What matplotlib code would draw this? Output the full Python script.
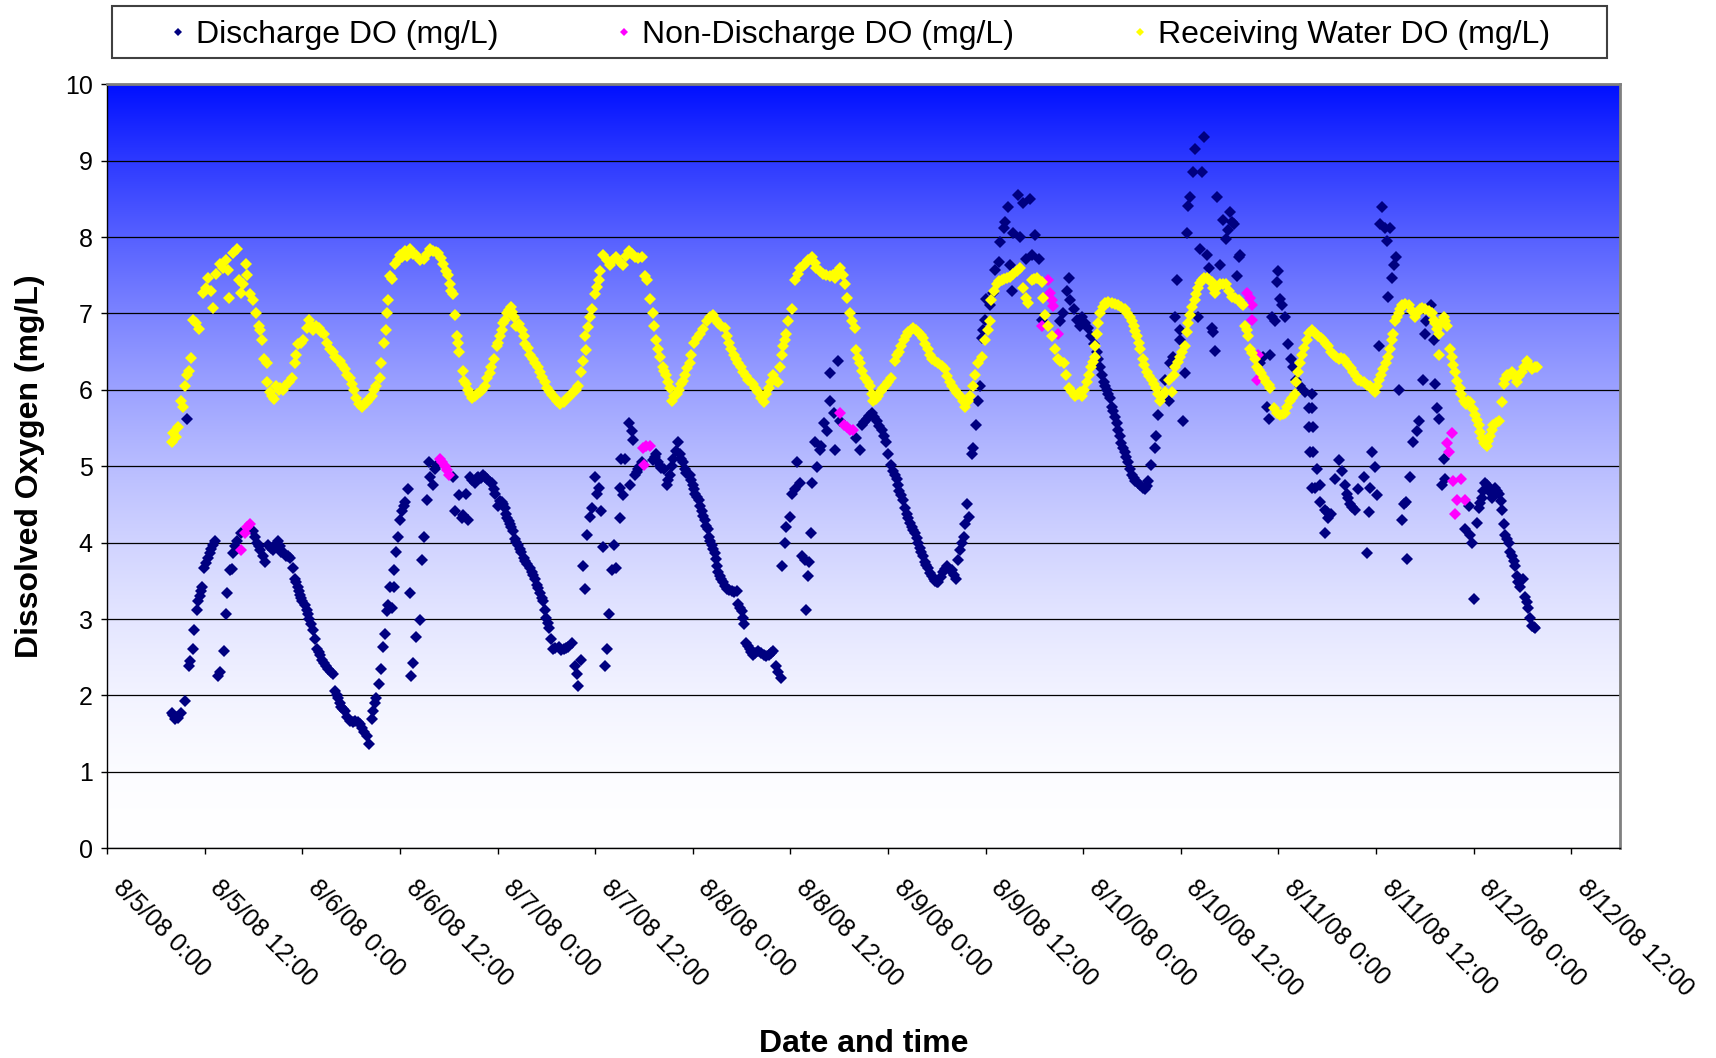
import numpy as np
import pandas as pd
import matplotlib
matplotlib.use("Agg")
import matplotlib.pyplot as plt
import matplotlib.dates as mdates
from matplotlib.lines import Line2D
from matplotlib.patches import Rectangle
from matplotlib.transforms import ScaledTranslation

plt.rcParams['font.family'] = ['Liberation Sans', 'DejaVu Sans']

# hours after 8/5/08 0:00 and DO readings (mg/L)
receiving_hours = [
    7.9, 8.1, 8.4, 8.7, 9.1, 9.3, 9.55, 9.76, 10.0, 10.25, 10.6, 10.9, 11.3, 11.8, 12.1, 12.4, 12.8, 13.0, 13.4, 13.9,
    14.2, 14.6, 14.9, 15.0, 15.4, 15.9, 16.2, 16.4, 16.7, 17.0, 17.2, 17.55, 17.96, 18.25, 18.6, 18.8, 19.0, 19.3, 19.6, 19.7,
    20.0, 20.3, 20.5, 20.8, 21.1, 21.3, 21.6, 21.9, 22.3, 22.7, 23.1, 23.2, 23.5, 23.8, 24.1, 24.5, 24.8, 25.0, 25.3, 25.7,
    26.0, 26.3, 26.6, 27.0, 27.4, 27.7, 28.0, 28.3, 28.6, 28.9, 29.2, 29.5, 29.8, 30.1, 30.3, 30.6, 30.9, 31.3, 31.6, 31.9,
    32.2, 32.5, 32.8, 33.1, 33.5, 33.7, 34.0, 34.3, 34.4, 34.55, 34.8,
    35.0, 35.4, 35.7, 36.0, 36.3, 36.6, 36.9, 37.2, 37.6, 38.0, 38.4, 38.9, 39.3, 39.7, 40.0, 40.4, 40.7, 41.0, 41.3, 41.7,
    41.9, 42.1, 42.3, 42.5, 42.75, 43.0, 43.15, 43.3, 43.7, 43.9, 44.1, 44.3, 44.6, 44.9, 45.2, 45.5, 45.8, 46.1, 46.4, 46.7,
    47.05, 47.2, 47.5, 47.9, 48.1, 48.3, 48.5, 48.7, 48.9, 49.1, 49.35, 49.6, 49.8, 50.0, 50.3, 50.6, 51.0, 51.2, 51.4, 51.7,
    52.0, 52.3, 52.6, 52.9, 53.2, 53.5, 53.8, 54.1, 54.4, 54.7, 55.0, 55.3, 55.7, 56.1, 56.5, 56.9, 57.3, 57.6, 57.9, 58.3,
    58.45, 58.7, 58.9, 59.1, 59.3, 59.6, 60.0, 60.2, 60.4, 60.6, 61.0, 61.4, 61.8, 62.2, 62.6,
    63.0, 63.45, 63.8, 64.1, 64.5, 64.9, 65.3, 65.7, 66.1, 66.4, 66.7, 67.1, 67.2, 67.5, 67.75, 68.0, 68.3, 68.5, 68.7, 69.0,
    69.2, 69.4, 69.7, 70.0, 70.3, 70.6, 70.8, 71.0, 71.3, 71.6, 71.8, 72.1, 72.5, 72.9, 73.3, 73.7, 74.1, 74.5, 74.8, 75.1,
    75.5, 75.95, 76.2, 76.4, 76.7, 77.0, 77.3, 77.6, 77.9, 78.2, 78.5, 78.8, 79.1, 79.4, 79.7, 80.05, 80.4, 80.7, 81.0, 81.3,
    81.6, 81.9, 82.2, 82.5, 82.7, 82.9, 83.1, 83.3, 83.5, 83.7, 84.2, 84.6, 84.9, 85.2, 85.5, 85.8, 86.2, 86.7, 87.0, 87.2,
    87.6, 88.0, 88.4, 88.9, 89.2, 89.5, 89.8, 90.1, 90.4, 90.7, 91.0, 91.3, 91.6, 91.9,
    92.1, 92.3, 92.5, 92.8, 93.2, 93.5, 93.8, 94.0, 94.2, 94.5, 94.8, 95.1, 95.4, 95.7, 96.0, 96.4, 96.85, 97.1, 97.3, 97.6,
    97.9, 98.2, 98.5, 98.8, 99.1, 99.4, 99.7, 100.0, 100.3, 100.6, 100.95, 101.2, 101.4, 101.8, 102.2, 102.6, 103.0, 103.3,
    103.6, 103.9, 104.2, 104.5, 104.85, 105.2, 105.5, 105.8, 106.1, 106.4, 106.7, 107.1, 107.5, 107.9, 108.3, 108.5, 108.7,
    109.0, 109.35, 109.65, 109.97, 110.3, 110.6, 111.0, 111.4, 111.8, 112.2, 112.6, 112.9, 113.25, 113.65, 114.0, 114.3,
    114.9, 115.1, 115.3, 115.7, 116.1, 116.5, 116.9, 117.2, 117.6, 117.9, 118.2, 118.6, 119.0, 119.3, 119.6,
    119.8, 120.1, 120.4, 120.7, 121.0, 121.2, 121.4, 121.5, 121.65, 121.85, 122.06, 122.4, 122.7, 123.1, 123.5, 123.9, 124.3,
    124.7, 125.1, 125.4, 125.75, 126.0, 126.2, 126.4, 126.6, 126.8, 127.0, 127.3, 127.5, 127.8, 128.1, 128.4, 128.7, 129.0,
    129.2, 129.4, 129.7, 130.05, 130.5, 130.9, 131.1, 131.3, 131.6, 131.9, 132.2, 132.5, 132.7, 132.9, 133.1, 133.4, 133.7,
    133.9, 134.15, 134.4, 134.6, 134.9, 135.2, 135.5, 135.8, 136.0, 136.2, 136.5, 136.8, 137.2, 137.6, 137.9, 138.25, 138.6,
    139.1, 139.4, 139.7, 139.9, 140.1, 140.3, 140.5, 140.8, 141.1, 141.3, 141.6, 141.9, 142.2, 142.5, 142.8, 143.0, 143.4,
    143.8, 144.2, 144.5, 144.8, 145.1, 145.4, 145.7, 146.0, 146.2, 146.4, 146.6, 146.85, 147.2, 147.5, 147.8,
    148.1, 148.5, 148.9, 149.2, 149.5, 149.8, 150.15, 150.5, 150.8, 151.1, 151.4, 151.7, 152.0, 152.3, 152.6, 152.9, 153.2,
    153.5, 153.8, 154.1, 154.5, 154.9, 155.3, 155.6, 155.9, 156.1, 156.3, 156.6, 156.9, 157.2, 157.5, 157.7, 157.9, 158.1,
    158.35, 158.6, 158.8, 159.0, 159.2, 159.6, 160.0, 160.4, 160.8, 161.1, 161.4, 161.7, 162.0, 162.5, 162.9, 163.1, 163.3,
    163.5, 163.7, 164.0, 164.3, 164.5, 164.7, 163.7, 165.1, 165.3, 165.5, 165.7, 166.0, 166.3, 166.5, 166.75, 167.0, 167.3,
    167.6, 167.9, 168.2, 168.4, 168.6, 168.8, 169.0, 169.3, 169.6, 169.8, 170.0, 170.2, 170.4, 170.7, 171.1, 171.5, 171.7,
    171.9, 172.1, 172.4, 172.7, 173.0, 173.3, 173.6, 173.9, 174.2, 174.5, 174.8, 175.2, 175.5, 175.8,
]
receiving_do = [
    5.32, 5.43, 5.38, 5.51, 5.86, 5.78, 6.05, 6.19, 6.25, 6.42, 6.92, 6.88, 6.80, 7.27, 7.33, 7.46, 7.30, 7.07, 7.52, 7.65,
    7.60, 7.70, 7.57, 7.20, 7.79, 7.84, 7.44, 7.27, 7.38, 7.65, 7.50, 7.25, 7.17, 7.00, 6.84, 6.78, 6.65, 6.41, 6.35, 6.10,
    5.97, 5.92, 5.88, 6.05, 6.00, 6.03, 6.00, 6.05, 6.10, 6.16, 6.35, 6.46, 6.60, 6.62, 6.65, 6.81, 6.92, 6.85, 6.79, 6.83,
    6.81, 6.76, 6.73, 6.62, 6.54, 6.50, 6.43, 6.40, 6.38, 6.32, 6.27, 6.20, 6.16, 6.08, 6.00, 5.90, 5.81, 5.78, 5.82, 5.84,
    5.88, 5.92, 6.00, 6.05, 6.16, 6.35, 6.62, 6.79, 7.00, 7.17, 7.49,
    7.45, 7.65, 7.70, 7.76, 7.74, 7.82, 7.75, 7.84, 7.78, 7.76, 7.70, 7.71, 7.78, 7.84, 7.82, 7.80, 7.79, 7.72, 7.65, 7.55,
    7.50, 7.38, 7.30, 7.25, 6.98, 6.70, 6.62, 6.49, 6.25, 6.12, 6.08, 6.00, 5.94, 5.90, 5.92, 5.95, 5.97, 6.00, 6.05, 6.15,
    6.22, 6.30, 6.41, 6.57, 6.62, 6.70, 6.78, 6.87, 6.92, 7.00, 7.05, 7.08, 7.02, 6.95, 6.84, 6.86, 6.79, 6.70, 6.60, 6.55,
    6.46, 6.40, 6.35, 6.30, 6.24, 6.17, 6.10, 6.03, 5.97, 5.93, 5.89, 5.85, 5.81, 5.84, 5.89, 5.92, 5.97, 6.00, 6.05, 6.24,
    6.38, 6.70, 6.52, 6.82, 6.95, 7.06, 7.25, 7.35, 7.44, 7.55, 7.76, 7.70, 7.63, 7.70, 7.74,
    7.68, 7.63, 7.75, 7.82, 7.78, 7.74, 7.72, 7.74, 7.49, 7.44, 7.19, 7.00, 6.84, 6.65, 6.54, 6.43, 6.30, 6.25, 6.19, 6.10,
    6.03, 5.86, 5.92, 5.95, 6.00, 6.08, 6.12, 6.19, 6.28, 6.35, 6.45, 6.62, 6.68, 6.73, 6.80, 6.90, 6.95, 6.98, 6.92, 6.87,
    6.83, 6.81, 6.70, 6.62, 6.53, 6.46, 6.40, 6.35, 6.30, 6.24, 6.18, 6.13, 6.10, 6.08, 6.02, 5.97, 5.90, 5.84, 5.95, 6.03,
    6.10, 6.19, 6.12, 6.10, 6.30, 6.45, 6.57, 6.65, 6.73, 6.90, 7.06, 7.44, 7.52, 7.60, 7.62, 7.65, 7.70, 7.74, 7.66, 7.60,
    7.55, 7.52, 7.50, 7.49, 7.50, 7.46, 7.55, 7.60, 7.50, 7.38, 7.20, 7.00, 6.90, 6.81,
    6.52, 6.42, 6.35, 6.25, 6.16, 6.10, 6.05, 5.95, 5.86, 5.88, 5.92, 5.98, 6.03, 6.07, 6.10, 6.16, 6.38, 6.45, 6.49, 6.58,
    6.65, 6.70, 6.76, 6.79, 6.81, 6.78, 6.76, 6.72, 6.68, 6.60, 6.54, 6.46, 6.41, 6.38, 6.35, 6.31, 6.27, 6.18,
    6.10, 6.05, 6.00, 5.96, 5.92, 5.85, 5.78, 5.85, 5.92, 6.05, 6.19, 6.35, 6.43, 6.65, 6.79, 6.90, 7.17,
    7.30, 7.38, 7.42, 7.44, 7.45, 7.46, 7.48, 7.52, 7.56, 7.60, 7.33, 7.20, 7.14, 7.44, 7.45, 7.46,
    7.41, 7.20, 6.98, 6.84, 6.70, 6.54, 6.41, 6.38, 6.35, 6.20, 6.03, 5.97, 5.92, 5.95, 5.97,
    5.92, 6.00, 6.10, 6.20, 6.30, 6.37, 6.43, 6.57, 6.73, 6.88, 7.00, 7.08, 7.14, 7.15, 7.14, 7.12, 7.11,
    7.08, 7.06, 7.00, 6.95, 6.90, 6.84, 6.77, 6.70, 6.62, 6.54, 6.41, 6.33, 6.24, 6.18, 6.13, 6.08, 6.03,
    5.95, 5.86, 5.92, 5.97, 6.13, 5.97, 6.20, 6.30, 6.37, 6.43, 6.50, 6.57, 6.76, 6.88, 6.98, 7.08, 7.17,
    7.25, 7.33, 7.40, 7.44, 7.46, 7.46, 7.44, 7.41, 7.33, 7.27, 7.35, 7.38, 7.38, 7.38, 7.30, 7.22, 7.20,
    7.17, 7.14, 7.11, 6.84, 6.78, 6.70, 6.54, 6.48, 6.41, 6.30, 6.26, 6.22, 6.16, 6.10, 6.06, 6.03, 5.76,
    5.70, 5.67, 5.68, 5.70, 5.78, 5.86, 5.90, 5.94, 6.10, 6.24, 6.35, 6.46, 6.55, 6.65, 6.74,
    6.79, 6.74, 6.70, 6.68, 6.65, 6.60, 6.57, 6.50, 6.46, 6.43, 6.41, 6.42, 6.41, 6.37, 6.33, 6.28, 6.24,
    6.18, 6.13, 6.12, 6.10, 6.07, 6.05, 6.00, 5.97, 6.05, 6.13, 6.20, 6.27, 6.35, 6.43, 6.54, 6.65, 6.73,
    6.90, 6.95, 7.00, 7.06, 7.11, 7.12, 7.11, 7.03, 6.95, 7.02, 7.06, 7.07, 7.06, 7.03, 7.00, 6.92, 6.87,
    6.80, 6.73, 6.88, 6.95, 6.90, 6.84, 6.46, 6.54, 6.43, 6.33, 6.24, 6.12, 6.03, 5.95, 5.86, 5.82, 5.86,
    5.84, 5.75, 5.67, 5.60, 5.54, 5.45, 5.37, 5.30, 5.27, 5.33, 5.40, 5.47, 5.54, 5.56, 5.59, 5.84, 6.08,
    6.14, 6.19, 6.20, 6.24, 6.18, 6.10, 6.18, 6.24, 6.30, 6.38, 6.32, 6.27, 6.30, 6.30,
]

discharge_hours = [
    7.9, 8.1, 8.3, 8.5, 8.7, 9.1, 9.55, 9.76, 10.1, 10.2, 10.5, 10.7, 11.0, 11.2, 11.35, 11.5, 11.7, 11.9, 12.2, 12.4,
    12.6, 12.8, 13.0, 13.2, 13.65, 13.85, 14.3, 14.6, 14.7, 15.1, 15.3, 15.5, 15.7, 15.9, 16.5, 17.96, 18.2, 18.4, 18.6, 18.8,
    19.1, 19.4, 19.8, 20.1, 20.4, 20.7, 21.0, 21.2, 21.4, 21.7, 22.0, 22.25, 22.5, 22.8, 23.1, 23.25, 23.4, 23.55, 23.7, 23.85,
    24.0, 24.3, 24.5, 24.7, 24.85, 25.0, 25.25, 25.5, 25.8, 26.0, 26.2, 26.4, 26.6, 26.9, 27.2, 27.5, 27.8, 28.0, 28.2, 28.4,
    28.6, 28.8, 29.0, 29.2, 29.5, 29.8, 30.2, 30.5, 30.8, 31.1, 31.35, 31.6, 31.9, 32.2, 32.5, 32.7, 32.9, 33.1, 33.45, 33.7,
    33.9, 34.15, 34.4, 34.55, 34.8,
    35.0, 35.2, 35.25, 35.5, 35.8, 36.0, 36.3, 36.45, 36.6, 37.0, 37.2, 37.4, 37.6, 38.0, 38.45, 38.7, 39.0, 39.3, 39.5, 39.7,
    40.0, 40.3, 40.6, 42.5, 42.75, 43.2, 43.6, 43.8, 44.1, 44.3, 44.6, 44.9, 45.2, 45.4, 45.6, 45.9, 46.2, 46.45, 46.7, 47.0,
    47.26, 47.5, 47.7, 48.1, 48.3, 48.5, 48.7, 48.9, 49.05, 49.2, 49.35, 49.5, 49.7, 49.85, 50.1, 50.3, 50.5, 50.7, 50.9, 51.2,
    51.4, 51.6, 52.0, 52.2, 52.4, 52.6, 52.8, 53.0, 53.2, 53.4, 53.6, 53.8, 54.0, 54.2, 54.35, 54.6, 54.8, 55.1, 55.5, 55.8,
    56.1, 56.4, 56.7, 57.1, 57.5, 57.7, 57.9, 58.2, 58.5, 58.7, 59.0, 59.35, 59.55, 60.0, 60.2, 60.5, 60.7, 61.0, 61.2, 61.4,
    61.7, 62.0, 62.3, 62.6, 63.0, 63.1,
    63.2, 63.45, 63.65, 64.1, 64.3, 64.5, 64.7, 64.9, 65.1, 65.3, 65.5, 65.7, 67.1, 67.3, 67.5, 67.7, 67.9, 68.1, 68.4, 68.8,
    69.0, 69.2, 69.4, 69.6, 69.9, 70.2, 70.4, 70.6, 70.8, 71.0, 71.2, 71.4, 71.6, 71.8, 71.96, 72.1, 72.3, 72.5, 72.7, 72.9,
    73.1, 73.3, 73.5, 73.65, 73.8, 74.0, 74.15, 74.3, 74.5, 74.7, 74.85, 75.0, 75.15, 75.3, 75.5, 75.7, 75.9, 76.15, 76.5, 76.8,
    77.1, 77.4, 77.6, 77.8, 78.0, 78.15, 78.3, 78.5, 78.75, 79.0, 79.2, 79.4, 79.7, 80.05, 80.4, 80.7, 81.0, 81.3, 81.6, 81.9,
    82.2, 82.5, 82.8, 83.0, 83.3, 83.5, 83.9, 84.15, 84.5, 84.8, 85.2, 85.4, 85.8, 85.85, 86.1, 86.3, 86.5, 86.7, 87.0, 87.3,
    87.6, 87.8, 88.1, 88.45, 88.8, 88.9, 89.3, 89.5, 89.8, 90.1,
    92.1, 92.5, 92.8, 93.1, 93.4, 93.7, 94.0, 94.3, 94.6, 94.9, 95.2, 95.5, 95.75, 96.0, 96.3, 96.65, 96.85, 97.05, 97.2, 97.4,
    97.6, 97.8, 98.1, 98.3, 98.5, 98.7, 98.9, 99.1, 99.3, 99.5, 99.7, 99.9, 100.1, 100.3, 100.5, 100.7, 100.95, 101.2, 101.4,
    101.6, 101.8, 102.0, 102.2, 102.5, 102.8, 103.0, 103.2, 103.5, 103.8, 104.1, 104.35, 104.6, 104.9, 105.1, 105.3, 105.5,
    105.7, 105.9, 106.3, 106.5, 106.8, 107.0, 107.3, 107.5, 107.7, 107.9, 108.1, 108.5, 108.9, 109.15, 109.6, 109.8, 110.2,
    110.4, 110.8, 111.0, 111.2, 111.4, 112.0, 112.2, 112.6, 113.0, 113.45, 113.65, 114.1, 114.5, 114.9, 117.1, 117.55, 117.96,
    118.2, 118.4, 118.8, 119.2, 119.6,
    119.8, 120.2, 120.6, 121.0, 121.3, 121.65, 121.85, 122.06, 122.3, 122.5, 122.7, 122.9, 123.1, 123.3, 123.5, 123.7, 123.9,
    124.1, 124.3, 124.5, 124.7, 124.9, 125.1, 125.3, 125.5, 125.7, 125.95, 126.2, 126.4, 126.7, 127.0, 127.3, 127.6, 127.8,
    128.0, 128.3, 128.8, 129.0, 129.2, 129.6, 130.05, 130.5, 130.7, 131.0, 131.3, 131.5, 131.9, 131.95, 132.3, 132.5, 132.7,
    132.9, 133.1, 133.5, 133.7, 134.15, 134.3, 134.6, 134.8, 135.2, 135.4, 135.8, 136.0, 136.2, 136.5, 136.8, 137.2, 137.6,
    137.8, 138.0, 138.25, 138.5, 138.9, 139.1, 139.3, 141.7, 142.1, 142.55, 142.8, 143.0, 143.2, 143.6, 143.8, 144.0, 144.2,
    144.4, 144.8, 145.2, 145.6, 145.8, 146.2, 146.6, 147.3, 147.7, 147.8, 147.9, 148.1,
    148.1, 148.15, 148.3, 148.2, 148.7, 148.5, 149.1, 149.05, 149.7, 150.0, 150.4, 149.7, 150.15, 151.0, 151.4, 151.8, 152.2,
    152.4, 152.6, 152.8, 153.1, 153.4, 153.8, 154.5, 155.1, 155.3, 154.9, 155.5, 155.9, 156.1, 156.3, 156.7, 156.5, 157.1,
    157.3, 157.7, 157.5, 157.9, 158.2, 158.5, 158.8, 159.2, 159.4, 159.7, 159.8, 160.2, 160.6, 161.0, 161.3, 161.8, 162.0,
    162.2, 162.7, 163.1, 163.3, 163.5, 163.7, 164.1, 164.3, 164.5, 167.4, 166.95, 167.6, 167.8, 168.0, 168.4, 168.6, 168.8,
    169.0, 169.2, 169.4, 169.6, 169.8, 170.0, 170.2, 170.4, 170.6, 170.85, 171.1, 171.3, 171.5, 171.7, 171.9, 172.1, 172.3,
    172.5, 172.7, 172.9, 173.1, 173.3, 173.5, 173.7, 174.1, 174.3, 174.5, 174.7, 174.95, 175.2, 175.4, 175.6,
]
discharge_do = [
    1.77, 1.74, 1.69, 1.72, 1.71, 1.77, 1.93, 5.62, 2.39, 2.45, 2.61, 2.85, 3.12, 3.23, 3.30, 3.37, 3.42, 3.67, 3.74, 3.80,
    3.86, 3.92, 3.97, 4.02, 2.25, 2.31, 2.58, 3.07, 3.34, 3.64, 3.66, 3.86, 3.95, 4.02, 4.13, 4.15, 4.08, 3.99, 3.95, 3.91,
    3.83, 3.75, 3.97, 3.93, 3.91, 3.98, 4.02, 3.95, 3.88, 3.86, 3.83, 3.82, 3.80, 3.67, 3.53, 3.48, 3.42, 3.37, 3.31, 3.27,
    3.23, 3.18, 3.12, 3.07, 3.00, 2.93, 2.85, 2.74, 2.61, 2.57, 2.53, 2.47, 2.42, 2.38, 2.34, 2.31, 2.28, 2.06, 2.01, 1.96,
    1.90, 1.85, 1.82, 1.79, 1.72, 1.66, 1.65, 1.66, 1.65, 1.63, 1.58, 1.52, 1.47, 1.36, 1.69, 1.80, 1.90, 1.96, 2.15, 2.34,
    2.64, 2.80, 3.10, 3.18, 3.42,
    3.15, 3.42, 3.64, 3.88, 4.07, 4.29, 4.42, 4.48, 4.53, 4.70, 3.34, 2.25, 2.42, 2.77, 2.99, 3.77, 4.07, 4.56, 5.05, 4.86,
    4.75, 4.97, 5.02, 4.86, 4.42, 4.62, 4.32, 4.36, 4.64, 4.29, 4.86, 4.82, 4.78, 4.84, 4.86, 4.85, 4.89, 4.86, 4.83, 4.80,
    4.78, 4.70, 4.64, 4.48, 4.55, 4.53, 4.50, 4.45, 4.38, 4.32, 4.28, 4.24, 4.20, 4.15, 4.05, 4.01, 3.97, 3.92, 3.88, 3.80,
    3.76, 3.72, 3.67, 3.62, 3.58, 3.52, 3.45, 3.40, 3.34, 3.28, 3.23, 3.12, 3.02, 2.95, 2.88, 2.74, 2.61, 2.62, 2.64, 2.60,
    2.61, 2.62, 2.64, 2.69, 2.39, 2.28, 2.12, 2.47, 3.69, 3.39, 4.10, 4.34, 4.45, 4.86, 4.64, 4.72, 4.42, 3.94, 2.39, 2.61,
    3.07, 3.64, 3.97, 3.67, 4.32, 4.72,
    5.10, 4.62, 5.10, 5.57, 4.75, 5.46, 5.35, 4.89, 4.93, 4.97, 5.00, 5.05, 5.08, 5.12, 5.16, 5.05, 5.00, 4.98, 4.97, 4.75,
    4.82, 4.89, 5.00, 5.10, 5.20, 5.32, 5.16, 5.10, 5.05, 4.97, 4.91, 4.90, 4.89, 4.82, 4.75, 4.70, 4.64, 4.60, 4.56, 4.48,
    4.42, 4.35, 4.29, 4.22, 4.18, 4.07, 4.02, 3.97, 3.92, 3.86, 3.78, 3.69, 3.62, 3.56, 3.52, 3.48, 3.43, 3.39, 3.38, 3.37,
    3.36, 3.37, 3.20, 3.15, 3.10, 3.02, 2.93, 2.69, 2.65, 2.61, 2.57, 2.53, 2.56, 2.58, 2.55, 2.53, 2.52, 2.53, 2.55, 2.58,
    2.39, 2.31, 2.23, 3.69, 3.99, 4.21, 4.34, 4.64, 4.70, 5.05, 4.78, 3.83, 3.77, 3.12, 3.56, 3.75, 4.13, 4.78, 5.32, 4.99,
    5.21, 5.27, 5.57, 5.46, 6.22, 5.86, 5.70, 5.21, 6.38, 5.59,
    5.37, 5.21, 5.54, 5.58, 5.62, 5.66, 5.70, 5.65, 5.59, 5.53, 5.48, 5.40, 5.32, 5.16, 5.02, 4.94, 4.88, 4.83, 4.75, 4.67,
    4.62, 4.56, 4.45, 4.38, 4.32, 4.26, 4.21, 4.17, 4.13, 4.06, 3.99, 3.93, 3.88, 3.82, 3.75, 3.71, 3.67, 3.60, 3.56,
    3.52, 3.50, 3.49, 3.48, 3.55, 3.61, 3.66, 3.69, 3.66, 3.64, 3.58, 3.53, 3.77, 3.91, 3.99, 4.07, 4.24,
    4.51, 4.34, 5.16, 5.24, 5.54, 5.86, 6.05, 6.68, 6.79, 6.92, 7.19, 7.11, 7.27, 7.57, 7.68, 7.93, 8.12,
    8.20, 8.39, 7.63, 7.30, 8.06, 8.55, 8.00, 8.44, 7.71, 8.50, 7.76, 8.03, 7.71, 6.92, 6.90, 7.00, 7.30,
    7.46, 7.17, 7.06, 6.92, 6.84,
    6.95, 6.87, 6.81, 6.70, 6.60, 6.49, 6.40, 6.30, 6.20, 6.10, 6.05, 6.00, 5.95, 5.89, 5.78, 5.72, 5.65,
    5.56, 5.48, 5.39, 5.30, 5.24, 5.19, 5.12, 5.05, 4.97, 4.89, 4.85, 4.81, 4.78, 4.75, 4.72, 4.70, 4.74,
    4.81, 5.02, 5.24, 5.40, 5.67, 5.92, 6.13, 5.86, 6.35, 6.43, 6.95, 7.44, 6.79, 6.65, 5.59, 6.22, 8.06,
    8.41, 8.52, 8.85, 9.15, 6.95, 7.84, 8.85, 9.31, 7.76, 7.60, 6.81, 6.76, 6.51, 8.52, 7.63, 8.22, 7.98,
    8.09, 8.33, 8.20, 8.17, 7.49, 7.74, 7.76, 6.35, 6.43, 5.78, 5.62, 6.46, 6.95, 6.90, 7.41, 7.55, 7.19,
    7.11, 6.95, 6.60, 6.41, 6.30, 6.13, 6.05, 5.97, 5.76, 5.51, 5.19, 4.72,
    5.94, 5.76, 5.51, 5.19, 4.97, 4.72, 4.75, 4.53, 4.43, 4.40, 4.37, 4.13, 4.32, 4.83, 5.08, 4.94, 4.75,
    4.64, 4.58, 4.51, 4.47, 4.43, 4.70, 4.86, 4.40, 4.72, 3.86, 5.19, 4.99, 4.62, 6.57, 8.39, 8.17, 8.12,
    7.95, 8.12, 7.22, 7.46, 7.63, 7.74, 6.00, 4.29, 4.51, 4.53, 3.78, 4.86, 5.32, 5.46, 5.59, 6.13, 6.73,
    6.90, 7.11, 6.65, 6.08, 5.76, 5.62, 4.75, 5.10, 4.83, 4.48, 4.18, 4.10, 3.99, 3.26, 4.26, 4.45, 4.52,
    4.59, 4.68, 4.78, 4.75, 4.72, 4.66, 4.59, 4.65, 4.72, 4.68, 4.64, 4.54, 4.43, 4.24, 4.10, 4.05, 3.99,
    3.88, 3.83, 3.76, 3.69, 3.56, 3.49, 3.42, 3.53, 3.29, 3.22, 3.15, 3.02, 2.91, 2.89, 2.88,
]

nondischarge_hours = [
    16.4, 16.9, 17.2, 17.5,
    40.9, 41.2, 41.5, 41.8, 42.05,
    65.9, 66.0, 66.3, 66.7,
    90.1, 90.6, 91.0, 91.3, 91.7,
    114.9, 115.7, 115.9, 116.1, 116.3, 116.9,
    140.1, 140.5, 140.7, 140.75, 141.3, 141.5,
    164.7, 165.0, 165.3, 165.5, 165.7, 165.9, 166.5, 166.95,
]
nondischarge_do = [
    3.91, 4.13, 4.20, 4.24,
    5.10, 5.05, 5.00, 4.95, 4.89,
    5.24, 5.02, 5.27, 5.27,
    5.70, 5.54, 5.52, 5.48, 5.48,
    6.84, 7.44, 7.27, 7.17, 7.10, 6.73,
    7.27, 7.20, 7.11, 6.92, 6.13, 6.46,
    5.30, 5.19, 5.43, 4.81, 4.37, 4.56, 4.83, 4.56,
]

series_names = ['Discharge DO (mg/L)', 'Non-Discharge DO (mg/L)', 'Receiving Water DO (mg/L)']
series_colors = ['#000080', '#FF00FF', '#FFFF00']

start = pd.Timestamp('2008-08-05 00:00')


def to_dates(hours):
    return start + pd.to_timedelta(np.asarray(hours), unit='h')


def tick_label(num):
    d = mdates.num2date(num)
    return f"{d.month}/{d.day}/{d:%y} {d.hour}:{d:%M}"


fig = plt.figure(figsize=(17.16, 10.58), dpi=100)
ax = fig.add_axes([0.0625, 0.1983, 0.8816, 0.7220])

x0 = mdates.date2num(start)
x1 = mdates.date2num(start + pd.Timedelta(hours=186))

# blue-to-white plot area fill
s = np.linspace(1, 0, 512)
b = s ** 1.85
grad = (1 - b)[:, None] * np.array([1.0, 1.0, 1.0]) + b[:, None] * np.array([0.0, 0.06, 1.0])
ax.imshow(grad[:, None, :], extent=[x0, x1, 0, 10], aspect='auto', zorder=0, interpolation='bilinear')

ms = 6.0
ax.plot(to_dates(discharge_hours), discharge_do, 'D', color=series_colors[0], ms=ms, mew=0, zorder=3)
ax.plot(to_dates(nondischarge_hours), nondischarge_do, 'D', color=series_colors[1], ms=ms, mew=0, zorder=4)
ax.plot(to_dates(receiving_hours), receiving_do, 'D', color=series_colors[2], ms=ms, mew=0, zorder=5)

ax.set_xlim(x0, x1)
ax.set_ylim(0, 10)
ax.set_yticks(range(0, 11))
ax.yaxis.grid(True, color='black', linewidth=0.9)
ax.set_axisbelow(True)

tick_nums = [mdates.date2num(start + pd.Timedelta(hours=12 * i)) for i in range(16)]
ax.set_xticks(tick_nums)
ax.set_xticklabels([tick_label(n) for n in tick_nums])

ax.tick_params(axis='both', direction='out', length=4.5, width=1, color='black')
ax.tick_params(axis='y', labelsize=18, pad=6)
ax.tick_params(axis='x', labelsize=18, pad=15)
shift = ScaledTranslation(18 / 100, 0, fig.dpi_scale_trans)
for lab in ax.get_xticklabels():
    lab.set_rotation(-45)
    lab.set_ha('left')
    lab.set_va('top')
    lab.set_rotation_mode('anchor')
    lab.set_transform(lab.get_transform() + shift)

for side in ['left', 'bottom']:
    ax.spines[side].set_color('black')
    ax.spines[side].set_linewidth(1.0)
for side in ['top', 'right']:
    ax.spines[side].set_color('#808080')
    ax.spines[side].set_linewidth(2.0)

ax.set_ylabel('Dissolved Oxygen (mg/L)', fontsize=23, fontweight='bold')
ax.yaxis.set_label_coords(-0.041, 0.5)
ax.set_xlabel('Date and time', fontsize=23, fontweight='bold')
ax.xaxis.set_label_coords(0.5, -0.237)

# legend box across the top
fig.patches.append(Rectangle((0.065, 0.9452), 0.8712, 0.0496, transform=fig.transFigure,
                             facecolor='white', edgecolor='#404040', linewidth=1.5, zorder=1))
handles = [Line2D([], [], linestyle='none', marker='D', color=c, ms=4.3, mew=0) for c in series_colors]
fig.legend(handles, series_names, loc='center', bbox_to_anchor=(859 / 1716, 1 - 35 / 1058), ncol=3,
           frameon=False, fontsize=23, handlelength=0.6, handletextpad=0.25, columnspacing=3.65,
           borderpad=0.1)

fig.savefig('out.png', dpi=100)
